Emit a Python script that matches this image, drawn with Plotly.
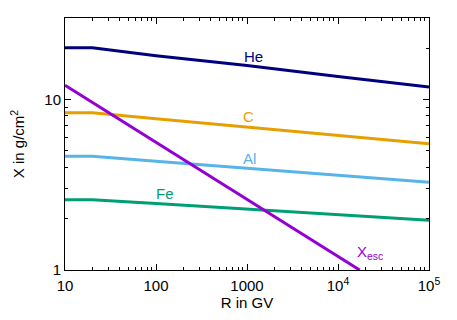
import plotly.graph_objects as go

# Data
R = [10, 20, 100, 1000, 1e4, 1e5]
X_He = [20.1, 20.1, 18.0, 15.8, 13.6, 11.8]
X_C = [8.35, 8.35, 7.7, 6.9, 6.2, 5.5]
X_Al = [4.64, 4.64, 4.34, 3.95, 3.6, 3.27]
X_Fe = [2.58, 2.58, 2.45, 2.28, 2.12, 1.96]
R_esc = [10, 17300]
X_esc = [12.1, 1.0]

series = [
    ("He", X_He, "#00007f"),
    ("C", X_C, "#e69f00"),
    ("Al", X_Al, "#56b4e9"),
    ("Fe", X_Fe, "#009e73"),
]

xtickvals = [10, 100, 1000, 1e4, 1e5]
xticktext = ["10", "100", "1000", "10<sup>4</sup>", "10<sup>5</sup>"]
xminor = [m * 10 ** e for e in range(1, 5) for m in range(2, 10)]
ytickvals = [1, 10]
yticktext = ["1", "10"]
yminor = [2, 3, 4, 5, 6, 7, 8, 9, 20, 30]

font = "Liberation Sans, Arial, sans-serif"
FS = 15

fig = go.Figure()
for name, ys, col in series:
    fig.add_trace(go.Scatter(x=R, y=ys, mode="lines", line=dict(color=col, width=3),
                             name=name, showlegend=False))
fig.add_trace(go.Scatter(x=R_esc, y=X_esc, mode="lines", line=dict(color="#9400d3", width=3),
                         name="Xesc", showlegend=False))

labels = [
    ("He", 3.066, 1.253, "#00007f"),
    ("C", 3.02, 0.90, "#e69f00"),
    ("Al", 3.03, 0.653, "#56b4e9"),
    ("Fe", 2.10, 0.447, "#009e73"),
    ("X<sub>esc</sub>", 4.35, 0.10, "#9400d3"),
]
for t, lx, ly, col in labels:
    fig.add_annotation(x=lx, y=ly, text=t, showarrow=False,
                       font=dict(color=col, size=FS, family=font))

def axis_common(minor_vals):
    return dict(showline=True, linecolor="black", linewidth=1, mirror="ticks",
                ticks="inside", ticklen=6, tickcolor="black", showgrid=False,
                zeroline=False, automargin=False,
                minor=dict(ticks="inside", ticklen=3, tickcolor="black", showgrid=False,
                           tickvals=minor_vals),
                tickfont=dict(size=FS, color="black", family=font))

fig.update_xaxes(type="log", range=[1, 5], tickvals=xtickvals, ticktext=xticktext,
                 ticklabelstandoff=2,
                 title=dict(text="R in GV", font=dict(size=FS, family=font, color="black"),
                            standoff=2),
                 **axis_common(xminor))
fig.update_yaxes(type="log", range=[0, 1.4771], tickvals=ytickvals, ticktext=yticktext,
                 title=dict(text="X in g/cm<sup>2</sup>",
                            font=dict(size=FS, family=font, color="black"),
                            standoff=22),
                 **axis_common(yminor))

# page body has an 8px default margin, so the figure is 8px smaller and offset
fig.update_layout(width=449, height=312, margin=dict(l=57, r=28, t=10, b=50),
                  plot_bgcolor="white", paper_bgcolor="white",
                  font=dict(family=font, size=FS, color="black"))

fig.write_html("out.html")
